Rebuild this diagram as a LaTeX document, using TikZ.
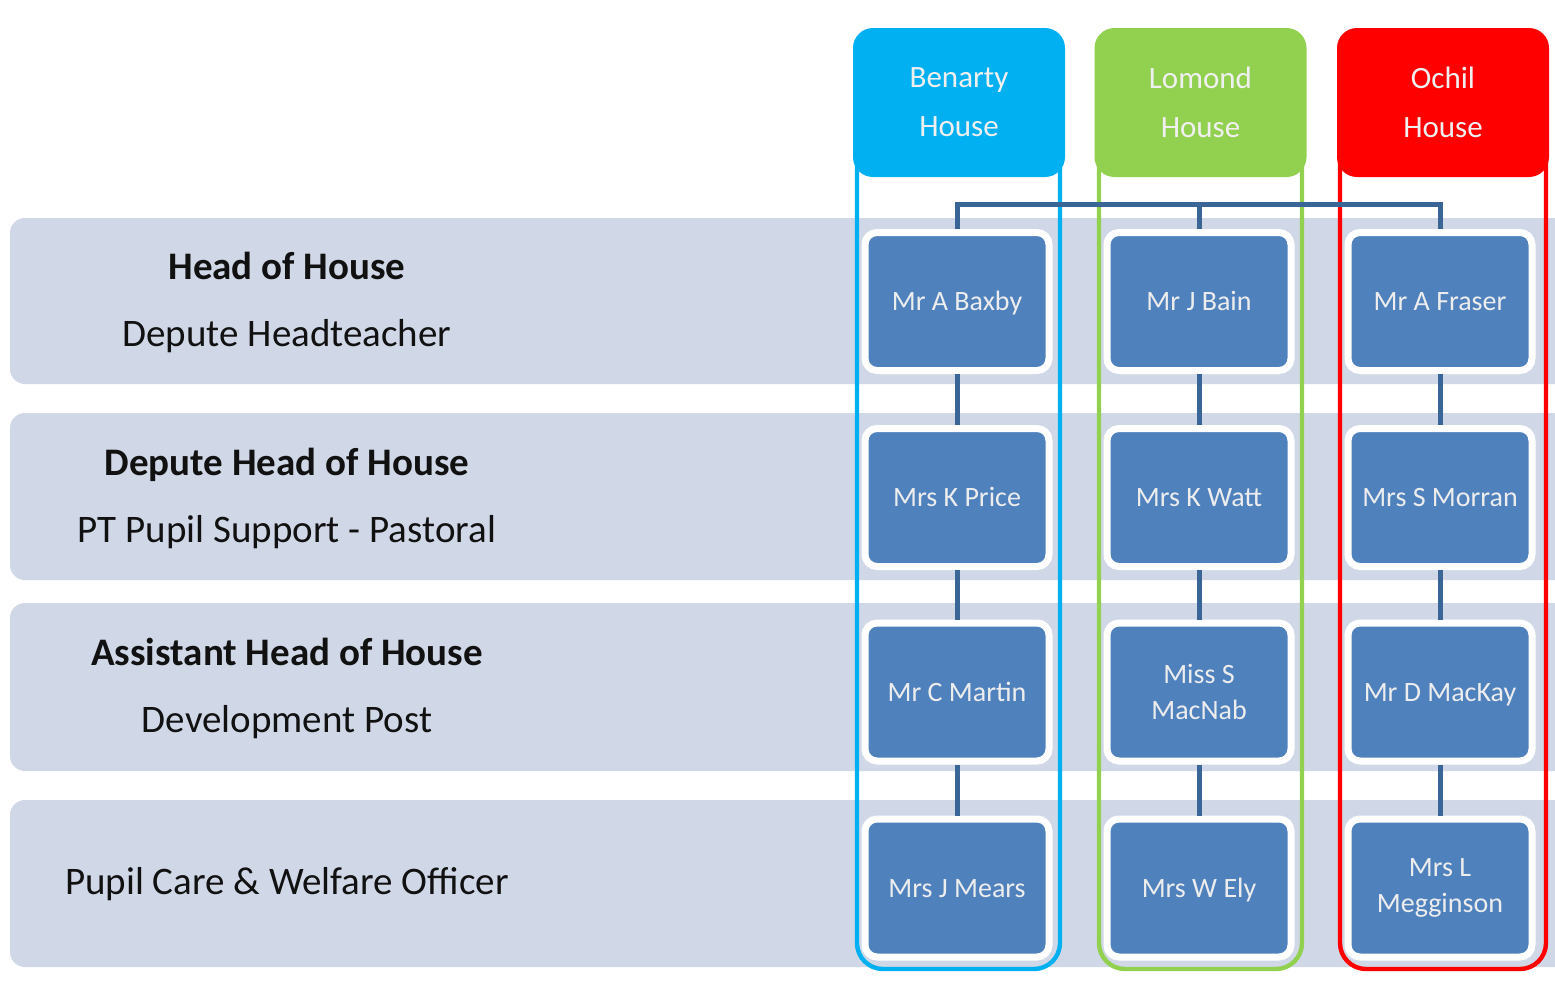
\documentclass[tikz,border=0pt]{standalone}
\usepackage{fontspec}
\setmainfont{Carlito}
\definecolor{bandc}{HTML}{D0D8E8}
\definecolor{boxblue}{HTML}{4F81BD}
\definecolor{connc}{HTML}{3A6597}
\definecolor{cyanc}{HTML}{00B0F0}
\definecolor{greenc}{HTML}{92D050}
\definecolor{redc}{HTML}{FF0000}
\definecolor{lbl}{HTML}{111111}
\begin{document}
\begin{tikzpicture}[x=0.5pt,y=-0.5pt,
  band/.style={fill=bandc, rounded corners=7.5pt},
  outline/.style={line width=2.2pt, rounded corners=13pt},
  hdr/.style={rounded corners=10pt, minimum width=106pt, minimum height=74.5pt, inner sep=0pt,
    text=white!94!black, align=center, font=\fontsize{15.5}{24.5}\selectfont},
  person2/.style={fill=boxblue, draw=white, line width=3.5pt, rounded corners=6pt,
    minimum width=92pt, minimum height=69pt, inner sep=0pt, text=white!93!black,
    align=center, font=\fontsize{14}{18}\selectfont},
  person/.style={person2, text height=9.5pt, text depth=0.5pt},
  rowlabel/.style={text=lbl, align=center, font=\fontsize{19.5}{33.5}\selectfont, inner sep=0pt},
  conn/.style={draw=connc, line width=2.5pt}]
\useasboundingbox (0,0) rectangle (1555,993);
\clip (0,0) rectangle (1555,993);
% bands
\fill[band] (10,218) rectangle (1600,384);
\fill[band] (10,413) rectangle (1600,580);
\fill[band] (10,603) rectangle (1600,771);
\fill[band] (10,800) rectangle (1600,967);
% row labels
\node[rowlabel] (r1) at (287,302) {\textbf{Head of House}\\Depute Headteacher};
\node[rowlabel] (r2) at (287,498) {\textbf{Depute Head of House}\\PT Pupil Support - Pastoral};
\node[rowlabel] (r3) at (287,688) {\textbf{Assistant Head of House}\\Development Post};
\node[rowlabel] (r4) at (287,884) {Pupil Care \& Welfare Officer};
% column outlines
\draw[outline, cyanc] (857,40) rectangle (1060,969);
\draw[outline, greenc] (1099,40) rectangle (1302,969);
\draw[outline, redc] (1340,40) rectangle (1546,969);
% headers
\node[hdr, fill=cyanc] (hb) at (959,102.5) {Benarty\\House};
\node[hdr, fill=greenc] (hl) at (1200.5,102.5) {Lomond\\House};
\node[hdr, fill=redc] (ho) at (1443,102.5) {Ochil\\House};
% people
\node[person] (b1) at (957,301.5) {Mr A Baxby};
\node[person] (b2) at (957,497.5) {Mrs K Price};
\node[person] (b3) at (957,692) {Mr C Martin};
\node[person] (b4) at (957,888) {Mrs J Mears};
\node[person] (l1) at (1199,301.5) {Mr J Bain};
\node[person] (l2) at (1199,497.5) {Mrs K Watt};
\node[person2] (l3) at (1199,692) {Miss S\\MacNab};
\node[person] (l4) at (1199,888) {Mrs W Ely};
\node[person] (o1) at (1440,301.5) {Mr A Fraser};
\node[person] (o2) at (1440,497.5) {Mrs S Morran};
\node[person] (o3) at (1440,692) {Mr D MacKay};
\node[person2] (o4) at (1440,888) {Mrs L\\Megginson};
% connectors
\coordinate (tbar) at (0,204);
\draw[conn] (b1.north) -- (b1.north |- tbar) -- (o1.north |- tbar) -- (o1.north);
\draw[conn] (l1.north) -- (l1.north |- tbar);
\foreach \c in {b,l,o}{
  \draw[conn] (\c1.south) -- (\c2.north);
  \draw[conn] (\c2.south) -- (\c3.north);
  \draw[conn] (\c3.south) -- (\c4.north);
}
\end{tikzpicture}
\end{document}
